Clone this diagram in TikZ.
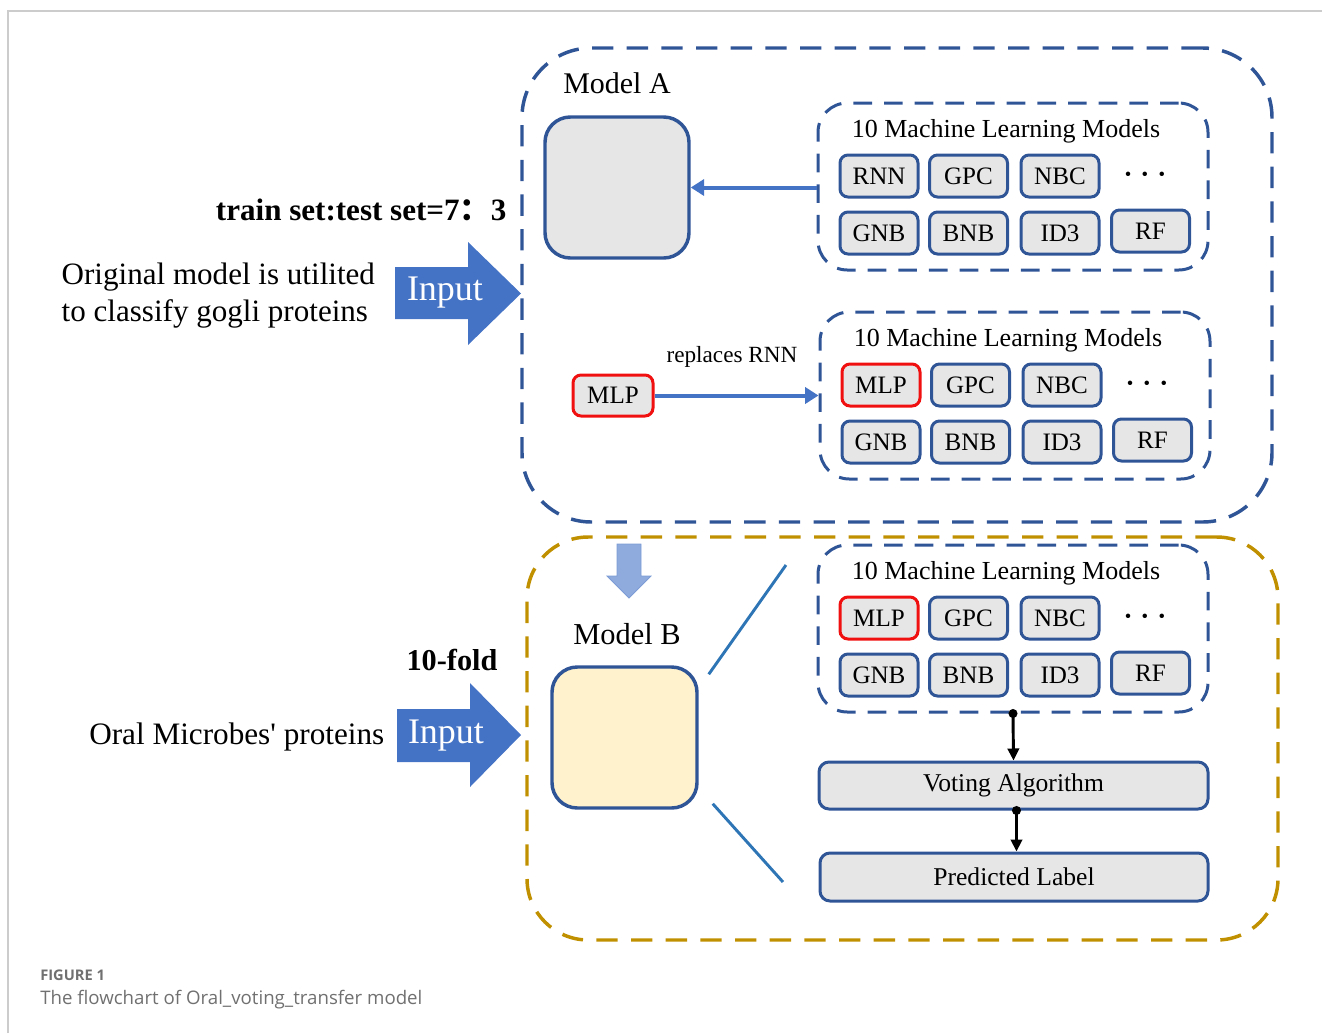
\documentclass[tikz,border=0pt]{standalone}
\usepackage{fontspec}
\setmainfont{Liberation Serif}
\newfontfamily\capfont{Open Sans}
\newfontfamily\cjk{Noto Sans CJK SC}
\usetikzlibrary{arrows.meta}

\newdimen\px \px=0.75pt
\newcommand\fsz[1]{\fontsize{#1}{#1}\selectfont}

\definecolor{boxblue}{HTML}{2F5597}
\definecolor{inblue}{HTML}{4472C4}
\definecolor{lineblue}{HTML}{2E75B6}
\definecolor{downblue}{HTML}{8FAADC}
\definecolor{boxgray}{HTML}{E6E6E6}
\definecolor{boxyellow}{HTML}{FFF2CC}
\definecolor{boxred}{HTML}{F01010}
\definecolor{gold}{HTML}{C09000}
\definecolor{framegray}{HTML}{CCCCCC}
\definecolor{capgray}{HTML}{707070}

\tikzset{
  mlbox/.style={draw=boxblue, fill=boxgray, line width=2.25pt, rounded corners=6pt,
    minimum width=78\px, minimum height=42\px, inner sep=0pt, font=\fsz{18.8}},
  redbox/.style={mlbox, draw=boxred},
  panel/.style={draw=boxblue, line width=2.25pt, rounded corners=22pt,
    dash pattern=on 14pt off 9pt},
  outerA/.style={draw=boxblue, line width=2.6pt, rounded corners=52pt,
    dash pattern=on 16pt off 10pt},
  outerB/.style={draw=gold, line width=2.6pt, rounded corners=46pt,
    dash pattern=on 16pt off 10pt},
  bigbox/.style={draw=boxblue, line width=2.6pt, rounded corners=19pt},
  widebox/.style={draw=boxblue, fill=boxgray, line width=2.25pt, rounded corners=7.5pt,
    inner sep=0pt, font=\fsz{19.2}},
  dotrow/.style={font=\fsz{14}},
  bluearrow/.style={draw=inblue, line width=3pt, -{Triangle[length=10pt,width=12pt]}},
  blackarrow/.style={draw=black, line width=2.2pt, -{Triangle[length=9pt,width=8.5pt]}},
  inputtext/.style={text=white, font=\fsz{27}},
}

% one dashed panel holding the ten learners
\newcommand\mlpanel[5]{%
  \node[panel, minimum width=390\px, minimum height=167\px] (#1) at ({#2+195},{#3+83.5}) {};
  \node[font=\fsz{19.5}] (#1-title) at ({#2+188},{#3+28}) {10 Machine Learning Models};
  \node[#5] (#1-a) at ({#2+61},{#3+73}) {#4};
  \node[mlbox] (#1-b) at ({#2+150.5},{#3+73}) {GPC};
  \node[mlbox] (#1-c) at ({#2+242},{#3+73}) {NBC};
  \node[dotrow] (#1-d) at ({#2+327},{#3+73}) {•\hspace{0.55em}•\hspace{0.55em}•};
  \node[mlbox] (#1-e) at ({#2+61},{#3+130}) {GNB};
  \node[mlbox] (#1-f) at ({#2+150.5},{#3+130}) {BNB};
  \node[mlbox] (#1-g) at ({#2+242},{#3+130}) {ID3};
  \node[mlbox] (#1-h) at ({#2+332.5},{#3+128}) {RF};
}

\begin{document}
\begin{tikzpicture}[x=0.75pt, y=-0.75pt]
\useasboundingbox (0,0) rectangle (1322,1033);

% page frame
\draw[framegray, line width=1.2pt] (8,1033) -- (8,11) -- (1322,11);

% ---------- Model A ----------
\node[outerA, minimum width=750\px, minimum height=474\px] (modelA) at (897,285) {};
\node[font=\fsz{22.5}] (titleA) at (617,83) {Model A};
\node[bigbox, fill=boxgray, minimum width=144\px, minimum height=141\px] (grayA) at (617,187.5) {};

\mlpanel{pone}{818}{103}{RNN}{mlbox}
\mlpanel{ptwo}{820}{312}{MLP}{redbox}

\draw[bluearrow] (pone.west |- grayA.east) -- (grayA.east);

\node[redbox, minimum width=80\px, minimum height=41\px] (mlp) at (613,395.5) {MLP};
\node[font=\fsz{17.4}] (repl) at (732,357) {replaces RNN};
\draw[bluearrow] (mlp.east) -- (mlp.east -| ptwo.west);

% left side input (Model A)
\node[font=\bfseries\fsz{23.3}, anchor=base east] (split) at (511,220) {train set:test set=7{\cjk ：}3};
\node[font=\fontsize{23.3}{27.8}\selectfont, align=left, anchor=west] (origtxt) at (57,296)
  {Original model is utilited\\to classify gogli proteins};
\fill[inblue] (395,267) -- (468,267) -- (468,242) -- (521,293.5) -- (468,345) -- (468,319) -- (395,319) -- cycle;
\node[inputtext] (inA) at (445,293) {Input};

% transfer arrow
\filldraw[fill=downblue, draw=inblue!70, line width=0.6pt]
  (617,544) -- (641,544) -- (641,576) -- (651,576) -- (629,598) -- (607,576) -- (617,576) -- cycle;

% ---------- Model B ----------
\node[outerB, minimum width=751\px, minimum height=403\px] (modelB) at (902.5,738.5) {};
\node[font=\fsz{22.8}] (titleB) at (627,634) {Model B};
\node[bigbox, fill=boxyellow, minimum width=145\px, minimum height=141\px] (yellowB) at (624.5,737.5) {};

\mlpanel{pthree}{818}{545}{MLP}{redbox}

\coordinate (zoomT) at (786,565);
\coordinate (zoomB) at (783,882);
\draw[lineblue, line width=2.2pt] ([shift={(10,9)}]yellowB.north east) -- (zoomT);
\draw[lineblue, line width=2.2pt] ([shift={(14,-6)}]yellowB.south east) -- (zoomB);

\node[widebox, minimum width=389\px, minimum height=47\px] (vote) at (1013.5,785.5) {Voting Algorithm};
\node[widebox, minimum width=388\px, minimum height=48\px] (pred) at (1014,877) {Predicted Label};

\draw[blackarrow] (pthree.south) -- (vote.north);
\fill (pthree.south) circle (3.4pt);
\draw[blackarrow] ([xshift=3\px]vote.south) -- ([xshift=3\px]vote.south |- pred.north);
\fill ([xshift=3\px]vote.south) circle (3.4pt);

% left side input (Model B)
\node[font=\bfseries\fsz{22.7}] (fold) at (452,660) {10-fold};
\node[font=\fsz{23.4}, anchor=east] (oraltxt) at (389,737) {Oral Microbes\textquotesingle{} proteins};
\fill[inblue] (397,709) -- (470,709) -- (470,683) -- (521,735) -- (470,787) -- (470,762) -- (397,762) -- cycle;
\node[inputtext] (inB) at (446,736) {Input};

% caption
\node[font=\capfont\bfseries\fsz{11}, text=capgray, anchor=west, inner sep=0pt] (figno) at (40,975) {FIGURE 1};
\node[font=\capfont\fsz{14}, text=capgray, anchor=west, inner sep=0pt] (caption) at (40,1000)
  {The flowchart of Oral\_voting\_transfer model};
\end{tikzpicture}
\end{document}
